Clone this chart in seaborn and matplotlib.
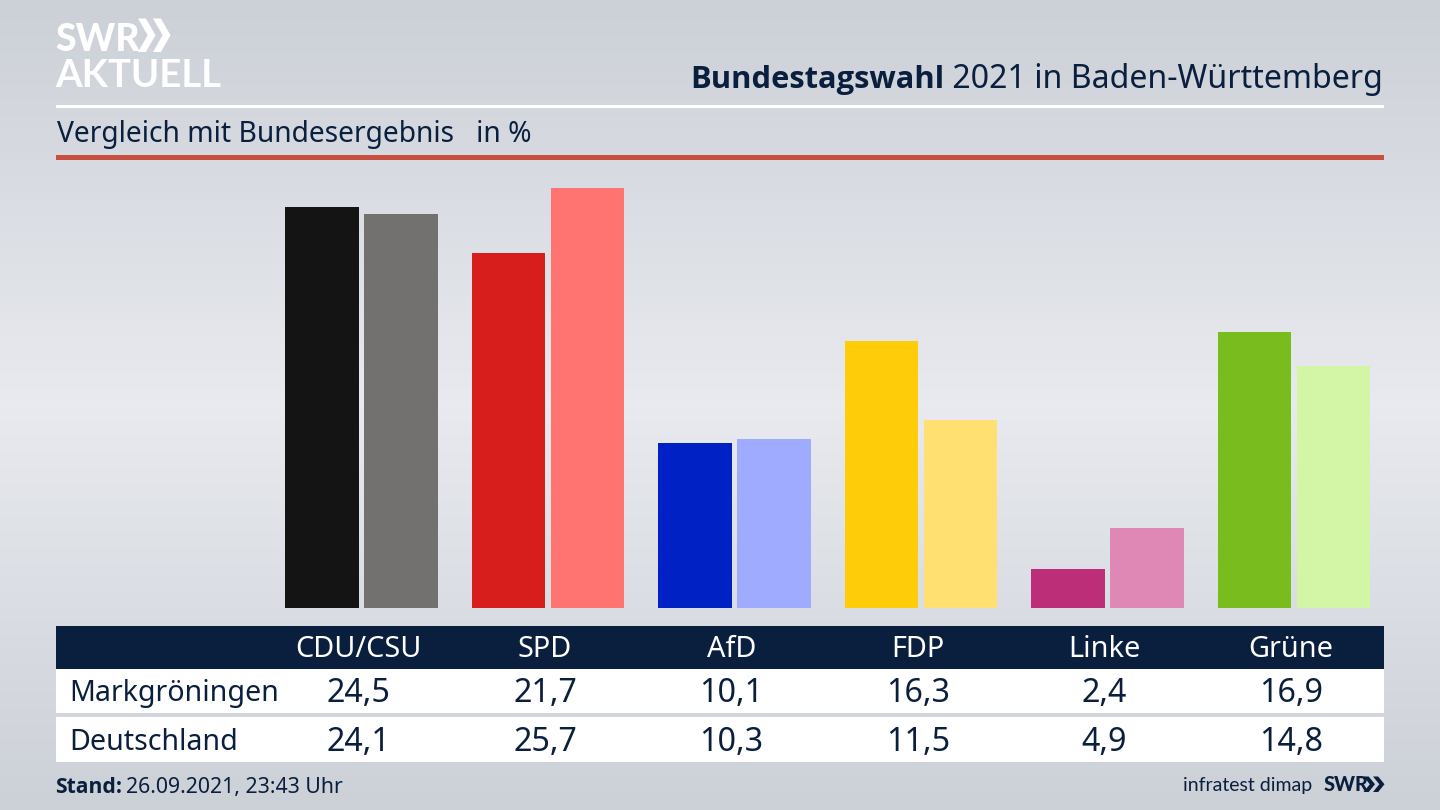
import matplotlib
matplotlib.use("Agg")
import matplotlib.pyplot as plt
import numpy as np
import pandas as pd
import seaborn as sns
from matplotlib.patches import Polygon, Rectangle

parties = ["CDU/CSU", "SPD", "AfD", "FDP", "Linke", "Grüne"]
regions = ["Markgröningen", "Deutschland"]
markgroeningen = [24.5, 21.7, 10.1, 16.3, 2.4, 16.9]
deutschland = [24.1, 25.7, 10.3, 11.5, 4.9, 14.8]
colors_local = ["#141414", "#d81e1c", "#0021c4", "#ffcc0a", "#bc2f78", "#78bc1e"]
colors_federal = ["#72716f", "#ff7370", "#9eabff", "#ffe070", "#df88b6", "#d3f6a6"]

NAVY = "#0a1f3e"
FONT = "Noto Sans"
BOLD = "Open Sans"
LOGO = "Lato"

sns.set_theme(style="white")
plt.rcParams["font.family"] = [FONT, "DejaVu Sans"]

fig = plt.figure(figsize=(14.4, 8.1), dpi=100)


def chevrons(ax, x, top, bottom, width, step, color):
    # the two arrows of the SWR logo
    mid = (top + bottom) / 2
    for x0 in (x, x + step):
        pts = [(x0, top), (x0 + width * 0.45, top), (x0 + width, mid),
               (x0 + width * 0.45, bottom), (x0, bottom), (x0 + width * 0.55, mid)]
        ax.add_patch(Polygon(pts, closed=True, color=color, lw=0, zorder=2))


# background and all the furniture, in pixel coordinates
bg = fig.add_axes([0, 0, 1, 1])
bg.set_xlim(0, 1440)
bg.set_ylim(810, 0)
bg.axis("off")
grad = np.abs(np.linspace(-1, 1, 256)).reshape(-1, 1)
bg.imshow(grad, cmap=matplotlib.colors.LinearSegmentedColormap.from_list("bg", ["#e8eaef", "#ccd0d7"]),
          extent=(0, 1440, 810, 0), aspect="auto", zorder=0)

bg.add_patch(Rectangle((56, 104.5), 1327.5, 3, color="white", lw=0, zorder=1))
bg.add_patch(Rectangle((56, 155), 1327.5, 5, color="#c8503f", lw=0, zorder=1))
bg.add_patch(Rectangle((56, 626), 1327.5, 42.5, color=NAVY, lw=0, zorder=1))
bg.add_patch(Rectangle((56, 668.5), 1327.5, 44.5, color="white", lw=0, zorder=1))
bg.add_patch(Rectangle((56, 717), 1327.5, 45, color="white", lw=0, zorder=1))

# logo
bg.text(55, 51, "SWR", fontsize=27, fontweight="black", color="white", va="baseline", ha="left", family=LOGO)
bg.text(55, 87, "AKTUELL", fontsize=27.5, fontweight="bold", color="white", va="baseline", ha="left", family=LOGO)
chevrons(bg, 138, 18.5, 52, 17.5, 15, "white")

# title, right aligned with a bold first word
renderer = fig.canvas.get_renderer()
t = bg.text(1383, 88, " 2021 in Baden-Württemberg", fontsize=23.1, color=NAVY, va="baseline", ha="right")
x0 = t.get_window_extent(renderer).x0
bg.text(x0, 88, "Bundestagswahl", fontsize=22.25, fontweight="bold", color=NAVY, va="baseline", ha="right", family=BOLD)

bg.text(57, 142, "Vergleich mit Bundesergebnis   in %", fontsize=20.3, color=NAVY, va="baseline", ha="left")

# bars
df = pd.DataFrame({
    "party": parties * 2,
    "region": [regions[0]] * 6 + [regions[1]] * 6,
    "value": markgroeningen + deutschland,
})
ax = fig.add_axes([268.4 / 1440, (810 - 608) / 810, 1119 / 1440, 448 / 810])
ax.patch.set_alpha(0)
sns.barplot(data=df, x="party", y="value", hue="region", ax=ax, width=0.847, gap=0.07,
            dodge=True, legend=False, saturation=1)
for container, cols in zip(ax.containers, [colors_local, colors_federal]):
    for bar, c in zip(container, cols):
        bar.set_facecolor(c)
        bar.set_edgecolor("none")
ax.set_xlim(-0.5, 5.5)
ax.set_ylim(0, 448 / 16.36)
ax.axis("off")

# table under the bars
col_x = [358.5 + 186.5 * i for i in range(len(parties))]
for x, p, a, b in zip(col_x, parties, markgroeningen, deutschland):
    bg.text(x, 657, p, fontsize=20.8, color="white", va="baseline", ha="center")
    bg.text(x, 702, f"{a:.1f}".replace(".", ","), fontsize=23.2, color=NAVY, va="baseline", ha="center")
    bg.text(x, 751, f"{b:.1f}".replace(".", ","), fontsize=23.2, color=NAVY, va="baseline", ha="center")
bg.text(69.5, 701, regions[0], fontsize=20.6, color=NAVY, va="baseline", ha="left")
bg.text(69.5, 750, regions[1], fontsize=20.6, color=NAVY, va="baseline", ha="left")

# footer
s = bg.text(55.5, 793, "Stand:", fontsize=15.2, fontweight="bold", color=NAVY, va="baseline", ha="left", family=BOLD)
x1 = s.get_window_extent(renderer).x1
bg.text(x1 + 3, 793, "26.09.2021, 23:43 Uhr", fontsize=15.3, color=NAVY, va="baseline", ha="left")
bg.text(1312, 791, "infratest dimap", fontsize=14, color=NAVY, va="baseline", ha="right", family=LOGO)
bg.text(1324, 791, "SWR", fontsize=14.3, fontweight="black", color=NAVY, va="baseline", ha="left", family=LOGO)
chevrons(bg, 1363.5, 776.5, 792, 11.5, 9.5, NAVY)

fig.savefig("out.png", dpi=100)
